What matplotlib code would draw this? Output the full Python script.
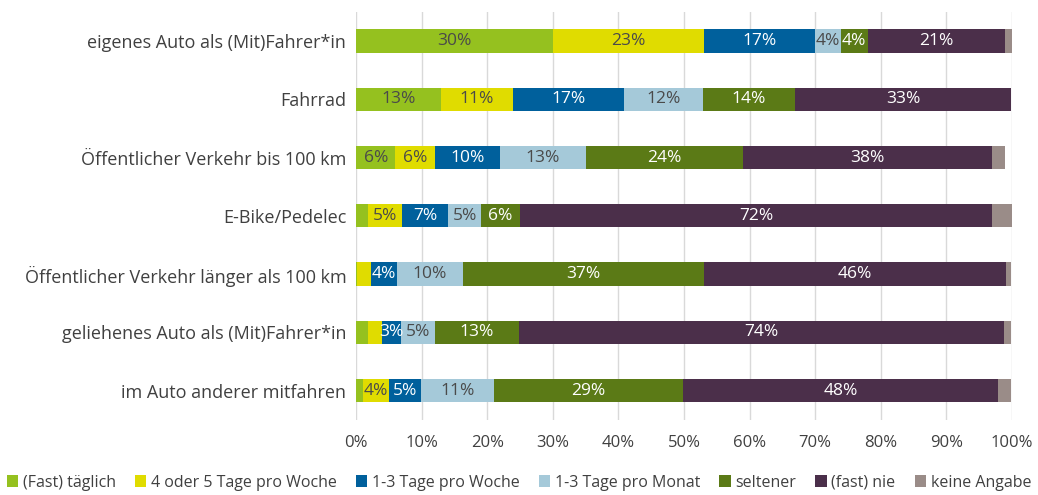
import matplotlib.pyplot as plt
import numpy as np

categories = ['eigenes Auto als (Mit)Fahrer*in', 'Fahrrad', 'Öffentlicher Verkehr bis 100 km',
              'E-Bike/Pedelec', 'Öffentlicher Verkehr länger als 100 km',
              'geliehenes Auto als (Mit)Fahrer*in', 'im Auto anderer mitfahren']
series = ['(Fast) täglich', '4 oder 5 Tage pro Woche', '1-3 Tage pro Woche',
          '1-3 Tage pro Monat', 'seltener', '(fast) nie', 'keine Angabe']

taeglich = [30.0, 13.0, 6.0, 1.9, 0.2, 1.9, 1.0]
tage45 = [23.0, 10.9, 6.1, 5.1, 2.1, 2.1, 4.1]
woche13 = [17.0, 17.0, 9.8, 7.0, 3.9, 2.9, 4.8]
monat13 = [3.9, 12.0, 13.1, 5.1, 10.1, 5.1, 11.1]
seltener = [4.1, 14.0, 24.0, 5.9, 36.8, 12.8, 28.9]
nie = [21.0, 33.0, 37.9, 72.0, 46.0, 74.0, 47.9]
keine = [1.0, 0.0, 2.1, 3.0, 0.8, 1.0, 2.1]

colors = ['#95C11F', '#E0DC00', '#00609C', '#A5C9D9', '#5B7A16', '#4B2F4A', '#9A8C88']
text_colors = ['#4a4a4a', '#4a4a4a', 'white', '#4a4a4a', 'white', 'white', None]

plt.rcParams['font.family'] = ['Open Sans', 'DejaVu Sans']
fig = plt.figure(figsize=(10.38, 4.95), dpi=100)
ax = fig.add_axes([0.343, 0.152, 0.632, 0.824])

data = [taeglich, tage45, woche13, monat13, seltener, nie, keine]
y = np.arange(len(categories))
left = np.zeros(len(categories))
for vals, name, col, tc in zip(data, series, colors, text_colors):
    vals = np.array(vals)
    ax.barh(y, vals, left=left, height=0.4, color=col, label=name, zorder=3)
    if tc is not None:
        for yi, v, l in zip(y, vals, left):
            if round(v) >= 3:
                ax.text(l + v / 2, yi, '%d%%' % round(v), ha='center', va='center',
                        color=tc, fontsize=12.5, zorder=4)
    left += vals

ax.set_xlim(0, 100)
ax.set_ylim(len(categories) - 0.5, -0.5)
ax.set_yticks(y)
ax.set_yticklabels(categories, fontsize=13, color='#404040')
ax.set_xticks(np.arange(0, 101, 10))
ax.set_xticklabels(['%d%%' % v for v in range(0, 101, 10)], fontsize=12, color='#404040')
ax.tick_params(axis='both', length=0)
ax.tick_params(axis='x', pad=11)
ax.tick_params(axis='y', pad=7)
ax.grid(axis='x', color='#D9D9D9', linewidth=1, zorder=0)
for s in ax.spines.values():
    s.set_visible(False)

fig.legend(loc='lower center', bbox_to_anchor=(0.5, -0.02), ncol=7, frameon=False,
           fontsize=11.5, handlelength=0.7, handleheight=0.7, handletextpad=0.3,
           columnspacing=1.2, labelcolor='#404040')

plt.savefig('out.png', dpi=100)
